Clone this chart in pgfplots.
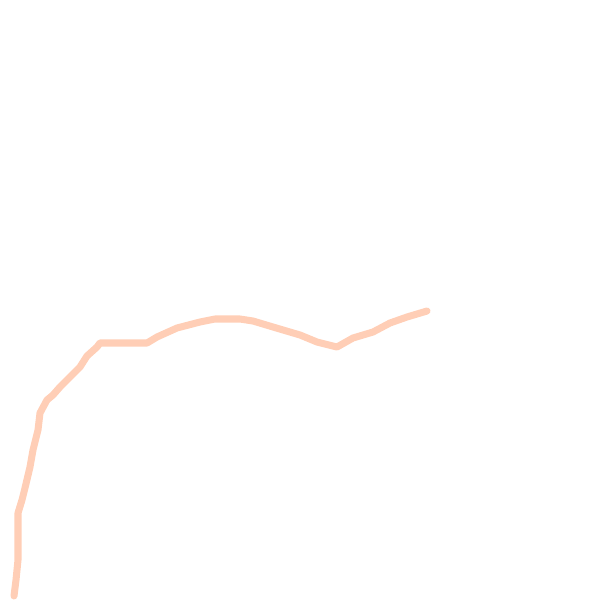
\documentclass[border=0pt]{standalone}
\usepackage{pgfplots}
\pgfplotsset{compat=1.18}
\definecolor{peach}{RGB}{255,206,182}
\begin{document}
\begin{tikzpicture}
\begin{axis}[
    hide axis,
    scale only axis,
    width=15cm, height=15cm,
    xmin=0, xmax=600, ymin=0, ymax=600,
    y dir=reverse,
    clip=false,
]
\path (rel axis cs:0,0) rectangle (rel axis cs:1,1);
\addplot[peach, line width=5pt, line join=round, line cap=round] coordinates {
(14,596) (16,580) (18,560) (18,513) (22,500) (25,488) (30,467) (33,450)
(38,430) (40,413) (47,400) (53,395) (60,387) (70,377) (80,367) (87,356)
(97,347) (100,343) (147,343) (157,337) (177,328) (200,322) (215,319)
(240,319) (253,321) (273,327) (300,335) (317,342) (337,347) (353,338)
(373,332) (390,323) (407,317) (427,311)
};
\end{axis}
\end{tikzpicture}
\end{document}
